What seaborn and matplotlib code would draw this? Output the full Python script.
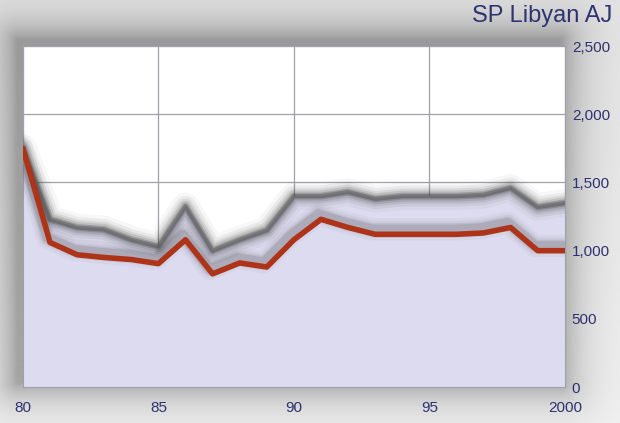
import numpy as np
import pandas as pd
import seaborn as sns
import matplotlib.pyplot as plt

years = list(range(1980, 2001))
price = [1750, 1060, 970, 950, 935, 905, 1080, 830, 910, 880, 1080,
         1230, 1170, 1120, 1120, 1120, 1120, 1130, 1170, 1000, 1000]
upper = [1750, 1230, 1170, 1155, 1080, 1030, 1325, 1000, 1080, 1150, 1400,
         1400, 1430, 1380, 1400, 1400, 1400, 1410, 1460, 1320, 1350]
x_ticks = [1980, 1985, 1990, 1995, 2000]
x_labels = ['80', '85', '90', '95', '2000']
y_ticks = [0, 500, 1000, 1500, 2000, 2500]
y_labels = ['0', '500', '1,000', '1,500', '2,000', '2,500']

df = pd.DataFrame({'year': years, 'price': price, 'upper': upper})

sns.set_style('white')
plt.rcParams['font.family'] = ['Liberation Sans', 'DejaVu Sans']
fig = plt.figure(figsize=(6.2, 4.23), dpi=100)
fig.patch.set_facecolor('#ececec')

# light grey background with a soft shadow round the plot box
bg = fig.add_axes([0, 0, 1, 1], zorder=-5)
py, px = np.mgrid[0:423, 0:620]
dx = np.maximum(np.maximum(17 - px, px - 560), 0)
dy = np.maximum(np.maximum(40 - py, py - 382), 0)
dist = np.hypot(dx, dy)
shade = 0.95 - 0.30 * np.exp(-dist / 22.0) - 0.05 * (1 - py / 423)
bg.imshow(shade, cmap='gray', vmin=0, vmax=1, aspect='auto',
          extent=[0, 1, 0, 1], interpolation='bilinear')
bg.axis('off')

ax = fig.add_axes([0.037, 0.085, 0.874, 0.806])
ax.set_facecolor('white')
ax.fill_between(df['year'], 0, df['upper'], color='#dddbef', zorder=1)

# blurred grey band
for lw, a in [(20, 0.04), (15, 0.07), (11, 0.1), (8, 0.15), (5, 0.25),
              (3, 0.35)]:
    sns.lineplot(data=df, x='year', y='upper', color='#3a3a3a', lw=lw,
                 alpha=a, ax=ax, zorder=2)
# shadow round the red line
for lw, a in [(16, 0.04), (12, 0.06), (9, 0.09), (7, 0.12)]:
    sns.lineplot(x=df['year'] - 0.1, y=df['price'] + 35, color='#333333',
                 lw=lw, alpha=a, ax=ax, zorder=3)
sns.lineplot(data=df, x='year', y='price', color='#ad3419', lw=4,
             ax=ax, zorder=4)

ax.set_xlim(1980, 2000)
ax.set_ylim(0, 2500)
ax.set_xticks(x_ticks)
ax.set_xticklabels(x_labels)
ax.set_yticks(y_ticks)
ax.set_yticklabels(y_labels)
ax.yaxis.tick_right()
ax.grid(True, color='#a0a0a8', lw=0.9, zorder=0)
ax.set_axisbelow(True)
ax.tick_params(labelsize=11, length=0)
ax.tick_params(axis='x', pad=10)
ax.tick_params(axis='y', pad=5)
for lbl in ax.get_xticklabels() + ax.get_yticklabels():
    lbl.set_color('#2d3270')
for s in ax.spines.values():
    s.set_color('#a0a0a8')
ax.set_xlabel('')
ax.set_ylabel('')

fig.text(0.988, 0.962, 'SP Libyan AJ', ha='right', va='center',
         fontsize=17, color='#2d3270')

fig.savefig('out.png', dpi=100, facecolor=fig.get_facecolor())
